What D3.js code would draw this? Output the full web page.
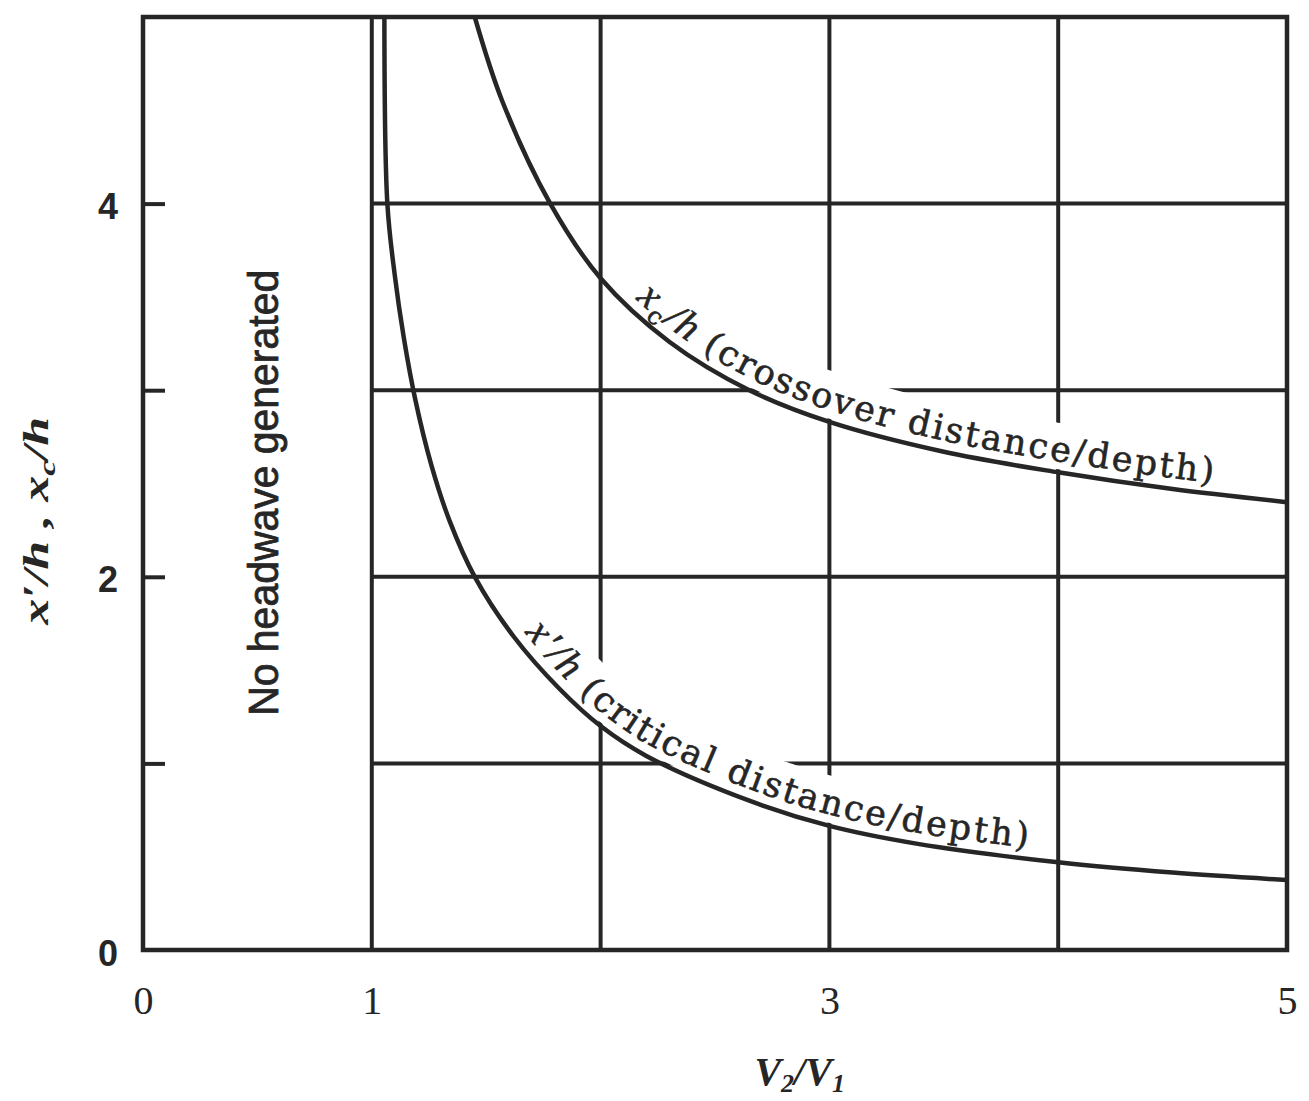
<!DOCTYPE html>
<html>
<head>
<meta charset="utf-8">
<script src="https://cdn.jsdelivr.net/npm/d3@7"></script>
<style>
  html, body { margin: 0; padding: 0; background: #fff; }
  svg { display: block; }
</style>
</head>
<body>
<svg id="chart" width="1309" height="1101"></svg>
<script>
// ---------------- data ----------------
const xTickValues = [0, 1, 3, 5];
const xTickLabels = ["0", "1", "3", "5"];
const yTickValues = [0, 2, 4];
const yTickLabels = ["0", "2", "4"];
const yMinorTicks = [1, 2, 3, 4];
const gridX = [1, 2, 3, 4];
const gridY = [1, 2, 3, 4];

// crossover distance / depth
const crossoverV = [1.45, 1.57, 1.78, 2.0, 2.3, 2.65, 3.0, 3.5, 4.0, 4.5, 5.0];
const crossoverY = [5.0, 4.55, 4.0, 3.60, 3.26, 3.0, 2.83, 2.67, 2.56, 2.47, 2.4];

// critical distance / depth
const criticalV = [1.055, 1.068, 1.10, 1.14, 1.19, 1.26, 1.34, 1.45, 1.62, 1.82, 2.0, 2.2, 2.65, 3.0, 3.38, 4.0, 4.5, 5.0];
const criticalY = [5.0, 4.0, 3.62, 3.28, 2.95, 2.6, 2.3, 2.0, 1.68, 1.40, 1.20, 1.04, 0.80, 0.665, 0.57, 0.47, 0.415, 0.375];

// label placement along curves (in V2/V1 units)
const crossoverLabelRange = [2.12, 4.67];
const criticalLabelRange = [1.63, 3.86];

const regionText = "No headwave generated";
const xTitleParts = ["V", "2", "/V", "1"];

// ---------------- drawing ----------------
const ink = "#262626";
const svg = d3.select("#chart");

const x = d3.scaleLinear().domain([0, 5]).range([143, 1287]);
const y = d3.scaleLinear().domain([0, 5]).range([950, 17]);

// grid
const grid = svg.append("g").attr("stroke", ink).attr("stroke-width", 4).attr("fill", "none");
grid.selectAll("line.gx").data(gridX).join("line")
  .attr("x1", d => x(d)).attr("x2", d => x(d))
  .attr("y1", y(0)).attr("y2", y(5));
grid.selectAll("line.gy").data(gridY).join("line")
  .attr("x1", x(1)).attr("x2", x(5))
  .attr("y1", d => y(d)).attr("y2", d => y(d));

// frame
svg.append("rect")
  .attr("x", x(0)).attr("y", y(5))
  .attr("width", x(5) - x(0)).attr("height", y(0) - y(5))
  .attr("fill", "none").attr("stroke", ink).attr("stroke-width", 4.5);

// y axis ticks (inward) + labels
const yAxisTicks = d3.axisLeft(y).tickValues(yMinorTicks).tickSizeInner(-22).tickSizeOuter(0).tickFormat("");
const gyt = svg.append("g").attr("transform", `translate(${x(0)},0)`).call(yAxisTicks);
gyt.select(".domain").remove();
gyt.selectAll(".tick line").attr("stroke", ink).attr("stroke-width", 4);

const yAxisLabels = d3.axisLeft(y).tickValues(yTickValues).tickSize(0).tickPadding(25)
  .tickFormat((d, i) => yTickLabels[i]);
const gyl = svg.append("g").attr("transform", `translate(${x(0)},0)`).call(yAxisLabels);
gyl.select(".domain").remove();
gyl.selectAll(".tick text")
  .attr("font-family", "'Liberation Sans', Arial, sans-serif")
  .attr("font-weight", "bold")
  .attr("font-size", 36)
  .attr("fill", ink)
  .attr("dy", "0.42em");

// x axis labels
const xAxisLabels = d3.axisBottom(x).tickValues(xTickValues).tickSize(0).tickPadding(36)
  .tickFormat((d, i) => xTickLabels[i]);
const gxl = svg.append("g").attr("transform", `translate(0,${y(0)})`).call(xAxisLabels);
gxl.select(".domain").remove();
gxl.selectAll(".tick text")
  .attr("font-family", "'Liberation Serif', 'Times New Roman', serif")
  .attr("font-size", 40)
  .attr("fill", ink);

// curves
const line = d3.line().x(d => x(d[0])).y(d => y(d[1])).curve(d3.curveCatmullRom.alpha(0.5));
const crossoverPts = crossoverV.map((v, i) => [v, crossoverY[i]]);
const criticalPts = criticalV.map((v, i) => [v, criticalY[i]]);

const defs = svg.append("defs");
const pCross = defs.append("path").attr("id", "crossPath").attr("d", line(crossoverPts));
const pCrit = defs.append("path").attr("id", "critPath").attr("d", line(criticalPts));

function lengthAtV(pathNode, v) {
  const target = x(v);
  let lo = 0, hi = pathNode.getTotalLength();
  for (let k = 0; k < 40; k++) {
    const mid = (lo + hi) / 2;
    if (pathNode.getPointAtLength(mid).x < target) lo = mid; else hi = mid;
  }
  return (lo + hi) / 2;
}

// white band above a curve section, where the label sits (knocks out the grid)
function addBand(layer, pathNode, range) {
  const total = pathNode.getTotalLength();
  const s = Math.max(0, lengthAtV(pathNode, range[0]) - 6);
  const e = Math.min(total, lengthAtV(pathNode, range[1]) + 8);
  const off = 26;
  const pts = [];
  for (let l = s; l <= e; l += 3) {
    const p = pathNode.getPointAtLength(l);
    const q = pathNode.getPointAtLength(Math.min(total, l + 1));
    const r = pathNode.getPointAtLength(Math.max(0, l - 1));
    let tx = q.x - r.x, ty = q.y - r.y;
    const n = Math.hypot(tx, ty) || 1;
    tx /= n; ty /= n;
    pts.push([p.x + ty * off, p.y - tx * off]);
  }
  layer.append("path")
    .attr("d", d3.line()(pts))
    .attr("fill", "none")
    .attr("stroke", "#fff")
    .attr("stroke-width", 46)
    .attr("stroke-linejoin", "round");
}

const labelFont = "'DejaVu Serif', 'Liberation Serif', serif";
function addLabel(layer, pathId, pathNode, range, parts) {
  const s = lengthAtV(pathNode, range[0]);
  const e = lengthAtV(pathNode, range[1]);
  const t = layer.append("text")
    .attr("font-family", labelFont)
    .attr("font-size", 35)
    .attr("fill", ink)
    .attr("stroke", ink).attr("stroke-width", 0.6)
    .attr("dy", -11);
  const tp = t.append("textPath")
    .attr("href", "#" + pathId)
    .attr("startOffset", s)
    .attr("textLength", e - s)
    .attr("lengthAdjust", "spacing");
  parts.forEach(p => {
    const ts = tp.append("tspan").text(p.t);
    if (p.italic) ts.attr("font-style", "italic").attr("font-family", "'Liberation Serif', serif").attr("font-size", 40);
    if (p.sub) ts.attr("font-size", 24).attr("dy", 8);
    if (p.unsub) ts.attr("dy", -8);
  });
}

const crossParts = [
  { t: "x", italic: true },
  { t: "c", sub: true },
  { t: "/h", italic: true, unsub: true },
  { t: " (crossover distance/depth)" }
];
const critParts = [
  { t: "x′/h", italic: true },
  { t: " (critical distance/depth)" }
];

const bandLayer = svg.append("g");
addBand(bandLayer, pCross.node(), crossoverLabelRange);
addBand(bandLayer, pCrit.node(), criticalLabelRange);

svg.append("path").attr("d", line(crossoverPts))
  .attr("fill", "none").attr("stroke", ink).attr("stroke-width", 4.5);
svg.append("path").attr("d", line(criticalPts))
  .attr("fill", "none").attr("stroke", ink).attr("stroke-width", 4.5);

const textLayer = svg.append("g");
addLabel(textLayer, "crossPath", pCross.node(), crossoverLabelRange, crossParts);
addLabel(textLayer, "critPath", pCrit.node(), criticalLabelRange, critParts);

// region label
svg.append("text")
  .attr("transform", `translate(${x(0.59)},${y(2.45)}) rotate(-90)`)
  .attr("text-anchor", "middle")
  .attr("font-family", "'Liberation Sans', Arial, sans-serif")
  .attr("font-size", 42)
  .attr("fill", ink)
  .attr("stroke", ink).attr("stroke-width", 0.8)
  .attr("textLength", 446)
  .attr("lengthAdjust", "spacingAndGlyphs")
  .text(regionText);

// y axis title
const yt = svg.append("text")
  .attr("transform", `translate(48,${y(2.3)}) rotate(-90)`)
  .attr("text-anchor", "middle")
  .attr("font-family", "'Liberation Serif', serif")
  .attr("font-style", "italic")
  .attr("font-weight", "bold")
  .attr("font-size", 36)
  .attr("fill", ink)
  .attr("textLength", 208)
  .attr("lengthAdjust", "spacingAndGlyphs");
yt.append("tspan").text("x′/h , x");
yt.append("tspan").attr("font-size", 24).attr("dy", 7).text("c");
yt.append("tspan").attr("dy", -7).text("/h");

// x axis title
const xt = svg.append("text")
  .attr("x", x(2.87)).attr("y", 1085)
  .attr("text-anchor", "middle")
  .attr("font-family", "'Liberation Serif', serif")
  .attr("font-style", "italic")
  .attr("font-weight", "bold")
  .attr("font-size", 40)
  .attr("fill", ink);
xt.append("tspan").text(xTitleParts[0]);
xt.append("tspan").attr("font-size", 26).attr("dy", 7).text(xTitleParts[1]);
xt.append("tspan").attr("dy", -7).text(xTitleParts[2]);
xt.append("tspan").attr("font-size", 26).attr("dy", 7).text(xTitleParts[3]);
</script>
</body>
</html>
